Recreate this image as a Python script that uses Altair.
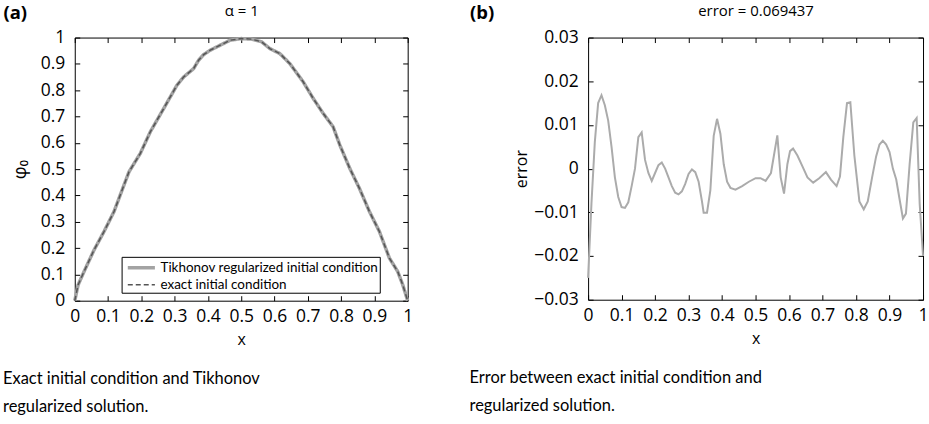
import altair as alt
import pandas as pd

# ---------------- data ----------------
x_phi = [0.0, 0.01, 0.028, 0.058, 0.088, 0.118, 0.148, 0.163, 0.197, 0.227, 0.267,
         0.307, 0.327, 0.357, 0.372, 0.387, 0.407, 0.437, 0.467, 0.5, 0.531, 0.561,
         0.586, 0.616, 0.646, 0.686, 0.716, 0.746, 0.776, 0.796, 0.826, 0.855,
         0.885, 0.915, 0.945, 0.97, 0.985, 1.0]
phi_exact = [0.0, 0.06, 0.111, 0.193, 0.263, 0.339, 0.44, 0.49, 0.56, 0.642, 0.73,
             0.819, 0.85, 0.882, 0.914, 0.935, 0.952, 0.971, 0.99, 0.996, 0.994, 0.984,
             0.958, 0.939, 0.901, 0.832, 0.769, 0.712, 0.661, 0.592, 0.503, 0.427,
             0.339, 0.263, 0.162, 0.111, 0.061, 0.0]
phi_tikhonov = [0.0, 0.06, 0.111, 0.193, 0.263, 0.339, 0.44, 0.49, 0.56, 0.642, 0.73,
                0.819, 0.85, 0.882, 0.914, 0.935, 0.952, 0.971, 0.99, 0.996, 0.994, 0.984,
                0.958, 0.939, 0.901, 0.832, 0.769, 0.712, 0.661, 0.592, 0.503, 0.427,
                0.339, 0.263, 0.162, 0.111, 0.061, 0.0]

x_err = [0.0, 0.01, 0.02, 0.03, 0.04, 0.05, 0.06, 0.07, 0.08, 0.09, 0.10, 0.11, 0.12,
         0.13, 0.14, 0.15, 0.16, 0.17, 0.18, 0.19, 0.20, 0.21, 0.22, 0.23, 0.24, 0.25,
         0.26, 0.27, 0.28, 0.29, 0.30, 0.31, 0.32, 0.33, 0.34, 0.345, 0.355, 0.365,
         0.375, 0.385, 0.395, 0.405, 0.415, 0.425, 0.44, 0.46, 0.48, 0.50, 0.515, 0.53,
         0.546, 0.565, 0.575, 0.585, 0.595, 0.603, 0.612, 0.625, 0.64, 0.655, 0.672,
         0.69, 0.71, 0.725, 0.742, 0.752, 0.762, 0.773, 0.783, 0.795, 0.81, 0.823,
         0.835, 0.848, 0.86, 0.87, 0.88, 0.89, 0.90, 0.91, 0.92, 0.93, 0.94, 0.949,
         0.96, 0.971, 0.981, 0.99, 1.0]
err = [-0.025, -0.008, 0.006, 0.015, 0.0168, 0.0145, 0.011, 0.005, -0.002, -0.0065,
       -0.0088, -0.009, -0.0077, -0.004, 0.0, 0.0072, 0.0083, 0.002, -0.001, -0.0028,
       -0.001, 0.0008, 0.0014, 0.0, -0.002, -0.004, -0.0055, -0.0059, -0.0052, -0.0035,
       -0.0012, -0.0002, -0.0008, -0.003, -0.0075, -0.0101, -0.0101, -0.005, 0.0075,
       0.0114, 0.008, 0.001, -0.003, -0.0044, -0.0048, -0.004, -0.003, -0.0022, -0.0022,
       -0.0028, -0.001, 0.0076, -0.002, -0.0057, 0.001, 0.004, 0.0046, 0.003, 0.0005,
       -0.002, -0.0032, -0.0022, -0.0008, -0.0025, -0.004, -0.0018, 0.0072, 0.015,
       0.0152, 0.003, -0.0075, -0.0093, -0.0075, -0.002, 0.0028, 0.0055, 0.0064, 0.0055,
       0.0038, 0.0, -0.0025, -0.007, -0.0114, -0.0103, 0.001, 0.0106, 0.0116, -0.008,
       -0.020]

series_names = ["Tikhonov regularized initial condition", "exact initial condition"]
x_ticks = [0, 0.1, 0.2, 0.3, 0.4, 0.5, 0.6, 0.7, 0.8, 0.9, 1]
phi_ticks = [0, 0.1, 0.2, 0.3, 0.4, 0.5, 0.6, 0.7, 0.8, 0.9, 1]
err_ticks = [-0.03, -0.02, -0.01, 0, 0.01, 0.02, 0.03]
caption_a = ["Exact initial condition and Tikhonov", "regularized solution."]
caption_b = ["Error between exact initial condition and", "regularized solution."]

# ---------------- tables ----------------
df_a = pd.concat([
    pd.DataFrame({"x": x_phi, "v": phi_tikhonov, "series": series_names[0]}),
    pd.DataFrame({"x": x_phi, "v": phi_exact, "series": series_names[1]}),
])
df_b = pd.DataFrame({"x": x_err, "e": err})

FONT = "Open Sans"
CAP_FONT = "Lato"
LBL = 17.5


def bottom_axis():
    return alt.Axis(values=x_ticks, format="~g", tickSize=5, offset=-5, domain=False,
                    grid=False, labelFlush=False, labelPadding=7, labelFontSize=LBL,
                    title="x", titleFontSize=16, titleFontWeight="normal", titlePadding=6)


def left_axis(vals, title, pad, size):
    return alt.Axis(values=vals, format="~g", tickSize=5, offset=-5, domain=False,
                    grid=False, labelFlush=False, labelPadding=10, labelFontSize=LBL,
                    title=title, titleFontSize=size, titleFontWeight="normal",
                    titlePadding=pad)


def top_axis(vals, title):
    return alt.Axis(orient="top", values=vals, tickSize=5, offset=-5, domain=False,
                    grid=False, labels=False, title=title, titleFontSize=15,
                    titleFontWeight="normal", titlePadding=19)


def right_axis(vals, tag, tag_x):
    # the panel tag "(a)"/"(b)" is carried by the (label-less) right axis title
    return alt.Axis(orient="right", values=vals, tickSize=5, offset=-5, domain=False,
                    grid=False, labels=False, title=tag, titleAngle=0, titleX=tag_x,
                    titleY=-25, titleAlign="left", titleBaseline="middle",
                    titleFontSize=18.5, titleFontWeight="bold")


xs = alt.Scale(domain=[0, 1], nice=False, zero=False)
ys_a = alt.Scale(domain=[0, 1], nice=False, zero=False)
ys_b = alt.Scale(domain=[-0.03, 0.03], nice=False, zero=False)

cap_style = dict(orient="bottom", anchor="start", frame="bounds", font=CAP_FONT, fontSize=16.5,
                 fontWeight="normal", lineHeight=28, offset=24)

lines_a = alt.Chart(df_a).mark_line().encode(
    x=alt.X("x:Q", scale=xs, axis=bottom_axis()),
    y=alt.Y("v:Q", scale=ys_a, axis=left_axis(phi_ticks, "φ₀", 11, 18)),
    color=alt.Color("series:N", scale=alt.Scale(domain=series_names, range=["#a3a3a3", "#555555"]),
                    legend=alt.Legend(title=None, orient="none", legendX=47, legendY=220,
                                      padding=1, strokeColor="black", fillColor="white",
                                      labelFont=CAP_FONT, labelFontSize=13.5, labelColor="black",
                                      labelLimit=400,
                                      symbolType="M-0.6,0H2.8", symbolSize=256, rowPadding=1,
                                      labelOffset=18)),
    strokeDash=alt.StrokeDash("series:N", scale=alt.Scale(domain=series_names, range=[[1, 0], [5, 3]]),
                              legend=None),
    strokeWidth=alt.StrokeWidth("series:N", scale=alt.Scale(domain=series_names, range=[3.5, 1.5]),
                                legend=None),
    order=alt.Order("x:Q"),
)

frame_a = alt.Chart(df_a).mark_line(opacity=0).encode(
    x=alt.X("x:Q", scale=xs, axis=top_axis(x_ticks, "α = 1")),
    y=alt.Y("v:Q", scale=ys_a, axis=right_axis(phi_ticks, "(a)", -401)),
)

panel_a = alt.layer(lines_a, frame_a).resolve_axis(x="independent", y="independent").properties(
    width=334, height=264,
    title=alt.Title(caption_a, **cap_style),
)

line_b = alt.Chart(df_b).mark_line(color="#ababab", strokeWidth=2).encode(
    x=alt.X("x:Q", scale=xs, axis=bottom_axis()),
    y=alt.Y("e:Q", scale=ys_b, axis=left_axis(err_ticks, "error", 4, 16)),
    order=alt.Order("x:Q"),
)
frame_b = alt.Chart(df_b).mark_line(opacity=0).encode(
    x=alt.X("x:Q", scale=xs, axis=top_axis(x_ticks, "error = 0.069437")),
    y=alt.Y("e:Q", scale=ys_b, axis=right_axis(err_ticks, "(b)", -450)),
)
panel_b = alt.layer(line_b, frame_b).resolve_axis(x="independent", y="independent").properties(
    width=336, height=263,
    title=alt.Title(caption_b, **cap_style),
)

chart = alt.hconcat(
    panel_a, panel_b,
    spacing=181,
    bounds="flush",
).properties(
    padding={"left": 2, "top": 2, "right": 0, "bottom": 0},
    background="white",
).configure_view(
    stroke="black", strokeWidth=1,
).configure_axis(
    labelFont=FONT, titleFont=FONT, labelColor="black", titleColor="black", tickColor="black",
    tickWidth=1,
).configure_title(
    font=FONT, color="black",
)

chart.save("out.html", embed_options={"renderer": "svg", "actions": False})
